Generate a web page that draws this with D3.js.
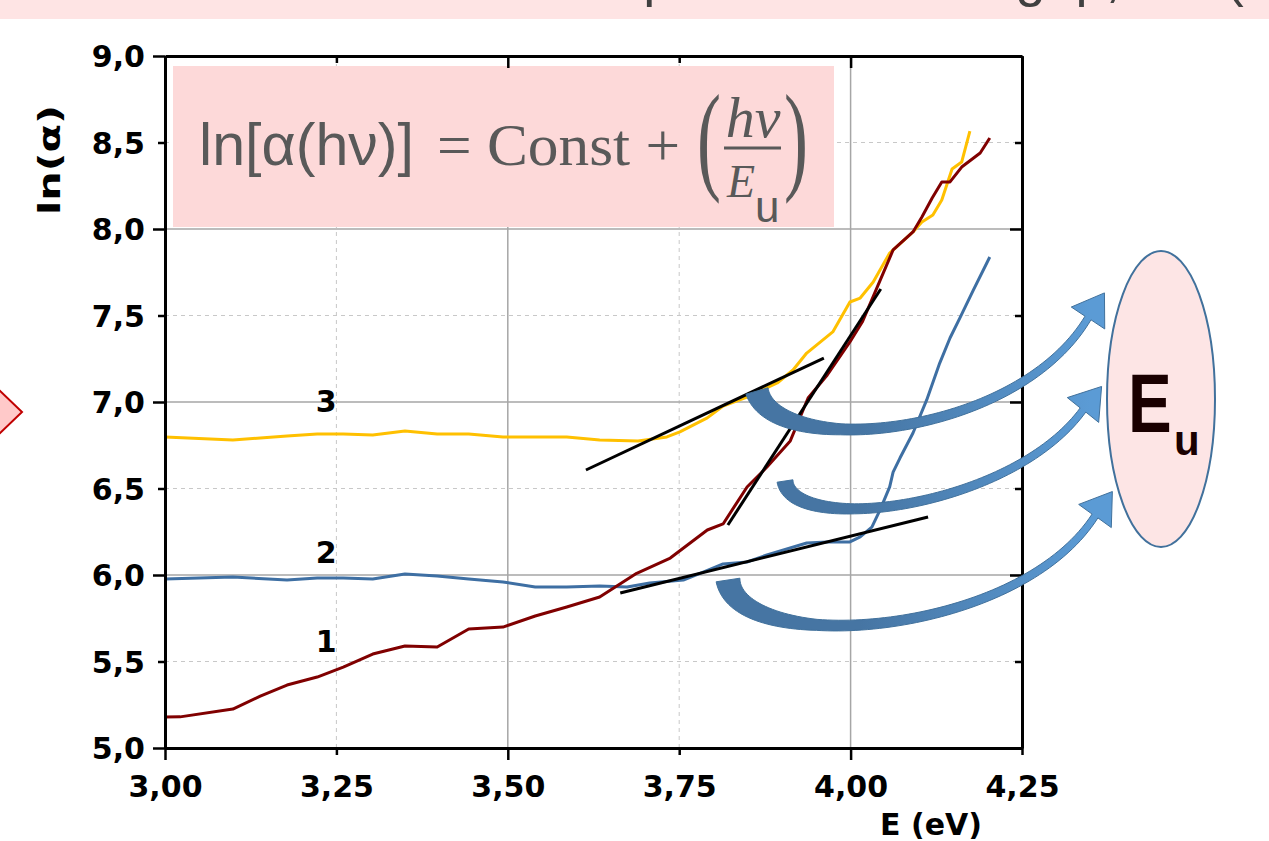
<!DOCTYPE html>
<html>
<head>
<meta charset="utf-8">
<script src="https://cdn.jsdelivr.net/npm/d3@7"></script>
<style>
  body { margin: 0; background: #fff; }
  svg text { font-family: "DejaVu Sans", sans-serif; }
</style>
</head>
<body>
<script>
// values
const xTicks = [3.00, 3.25, 3.50, 3.75, 4.00, 4.25]
const yTicks = [5.0, 5.5, 6.0, 6.5, 7.0, 7.5, 8.0, 8.5, 9.0]

// curve 1 (dark red)
const energy1 = [3.000, 3.022, 3.099, 3.139, 3.178, 3.222, 3.260, 3.303, 3.350, 3.397, 3.443, 3.493, 3.540, 3.586, 3.634, 3.688, 3.737, 3.791, 3.814, 3.849, 3.878, 3.912, 3.938, 3.966, 3.999, 4.017, 4.039, 4.062, 4.091, 4.104, 4.119, 4.133, 4.145, 4.162, 4.189, 4.203]
const lnAlpha1 = [5.179, 5.180, 5.225, 5.300, 5.364, 5.410, 5.468, 5.543, 5.590, 5.584, 5.688, 5.699, 5.763, 5.815, 5.873, 6.010, 6.098, 6.260, 6.295, 6.509, 6.624, 6.775, 7.023, 7.156, 7.347, 7.462, 7.665, 7.879, 7.983, 8.069, 8.179, 8.272, 8.272, 8.358, 8.439, 8.526]

// curve 2 (blue)
const energy2 = [3.000, 3.099, 3.178, 3.222, 3.260, 3.303, 3.350, 3.397, 3.443, 3.493, 3.540, 3.586, 3.634, 3.674, 3.707, 3.756, 3.785, 3.814, 3.849, 3.878, 3.936, 3.966, 3.999, 4.014, 4.031, 4.043, 4.057, 4.062, 4.072, 4.091, 4.111, 4.130, 4.145, 4.160, 4.179, 4.203]
const lnAlpha2 = [5.977, 5.988, 5.971, 5.983, 5.983, 5.977, 6.006, 5.994, 5.977, 5.960, 5.931, 5.931, 5.936, 5.931, 5.954, 5.971, 6.017, 6.064, 6.075, 6.116, 6.185, 6.191, 6.191, 6.220, 6.277, 6.376, 6.509, 6.595, 6.676, 6.821, 7.012, 7.225, 7.370, 7.491, 7.647, 7.838]

// curve 3 (orange)
const energy3 = [3.000, 3.099, 3.139, 3.178, 3.222, 3.260, 3.303, 3.350, 3.397, 3.443, 3.493, 3.540, 3.586, 3.634, 3.690, 3.732, 3.751, 3.791, 3.814, 3.849, 3.893, 3.916, 3.936, 3.974, 3.999, 4.014, 4.033, 4.057, 4.091, 4.104, 4.120, 4.133, 4.148, 4.162, 4.174]
const lnAlpha3 = [6.798, 6.780, 6.792, 6.803, 6.815, 6.815, 6.809, 6.832, 6.815, 6.815, 6.798, 6.798, 6.798, 6.780, 6.775, 6.798, 6.827, 6.908, 6.977, 7.029, 7.110, 7.185, 7.283, 7.405, 7.578, 7.601, 7.694, 7.861, 7.983, 8.040, 8.081, 8.168, 8.347, 8.387, 8.566]

// straight fits (black)
const fitEnergy = [[3.614, 3.961], [3.821, 4.044], [3.664, 4.113]]
const fitLnAlpha = [[6.607, 7.254], [6.289, 7.653], [5.896, 6.335]]

const curveNames = ['1', '2', '3']
const curveNameE = [3.235, 3.235, 3.235]
const curveNameLn = [5.555, 6.070, 6.940]

const width = 1269
const height = 841

const svg = d3.select("body")
  .append("svg")
    .attr("width", width)
    .attr("height", height)

const x = d3.scaleLinear().domain([3, 4.25]).range([165, 1022])
const y = d3.scaleLinear().domain([5, 9]).range([748, 56])

const isMajorX = (d) => Math.abs(d * 2 - Math.round(d * 2)) < 1e-6
const isMajorY = (d) => Math.abs(d - Math.round(d)) < 1e-6

// pink title band at the very top (its text is cut by the page edge, as on the slide)
svg.append("rect")
  .attr("x", 0).attr("y", 0)
  .attr("width", width).attr("height", 19)
  .attr("fill", "#fee4e4")
svg.append("clipPath").attr("id", "bandClip")
  .append("rect").attr("x", 0).attr("y", 0).attr("width", width).attr("height", 19)
svg.append("text")
  .attr("clip-path", "url(#bandClip)")
  .attr("x", 112).attr("y", -4)
  .attr("fill", "#404040")
  .style("font-family", "'Liberation Sans', sans-serif")
  .style("font-size", "54px")
  .text("Urbach tail from absorption and band gap, EU\u00a0(Eg)")

// pink arrow tip at left edge
svg.append("path")
  .attr("d", d3.line()([[-2, 389], [22, 412], [-2, 435]]))
  .attr("fill", "#ffc9c9")
  .attr("stroke", "#c00000")
  .attr("stroke-width", 2)

// grid
const grid = svg.append("g")
grid.selectAll("line.gx")
  .data(xTicks.filter((d) => d > 3 && d < 4.25))
  .enter()
    .append("line")
    .attr("x1", (d) => x(d)).attr("x2", (d) => x(d))
    .attr("y1", y(9)).attr("y2", y(5))
    .attr("stroke", (d) => isMajorX(d) ? "#a6a6a6" : "#c8c8c8")
    .attr("stroke-width", (d) => isMajorX(d) ? 1.5 : 1)
    .attr("stroke-dasharray", (d) => isMajorX(d) ? null : "4,4")
grid.selectAll("line.gy")
  .data(yTicks.filter((d) => d > 5 && d < 9))
  .enter()
    .append("line")
    .attr("x1", x(3)).attr("x2", x(4.25))
    .attr("y1", (d) => y(d)).attr("y2", (d) => y(d))
    .attr("stroke", (d) => isMajorY(d) ? "#a6a6a6" : "#c8c8c8")
    .attr("stroke-width", (d) => isMajorY(d) ? 1.5 : 1)
    .attr("stroke-dasharray", (d) => isMajorY(d) ? null : "4,4")

// formula box
svg.append("rect")
  .attr("x", 173).attr("y", 66)
  .attr("width", 661).attr("height", 161)
  .attr("fill", "#fdd9d9")

const formula = svg.append("g").attr("fill", "#595959")
formula.append("text")
  .attr("x", 199).attr("y", 165)
  .attr("textLength", 215).attr("lengthAdjust", "spacingAndGlyphs")
  .style("font-family", "'Liberation Sans', sans-serif")
  .style("font-size", "60px")
  .text("ln[α(hν)]")
formula.append("text")
  .attr("x", 437).attr("y", 165)
  .attr("textLength", 243).attr("lengthAdjust", "spacingAndGlyphs")
  .style("font-family", "'Liberation Serif', serif")
  .style("font-size", "60px")
  .text("= Const +")
formula.append("text")
  .attr("transform", "translate(709,178) scale(0.6,1)")
  .attr("text-anchor", "middle")
  .style("font-family", "'Liberation Serif', serif")
  .style("font-size", "120px")
  .text("(")
formula.append("text")
  .attr("transform", "translate(796,178) scale(0.6,1)")
  .attr("text-anchor", "middle")
  .style("font-family", "'Liberation Serif', serif")
  .style("font-size", "120px")
  .text(")")
formula.append("text")
  .attr("x", 753).attr("y", 137)
  .attr("text-anchor", "middle")
  .style("font-family", "'Liberation Serif', serif")
  .style("font-style", "italic")
  .style("font-size", "58px")
  .text("hν")
formula.append("line")
  .attr("x1", 724).attr("x2", 781)
  .attr("y1", 148).attr("y2", 148)
  .attr("stroke", "#595959").attr("stroke-width", 3)
formula.append("text")
  .attr("x", 727).attr("y", 197)
  .style("font-family", "'Liberation Serif', serif")
  .style("font-style", "italic")
  .style("font-size", "46px")
  .text("E")
formula.append("text")
  .attr("x", 755).attr("y", 222)
  .style("font-family", "'Liberation Sans', sans-serif")
  .style("font-size", "44px")
  .text("u")

// curves
const plot = svg.append("g")
const line = d3.line().x((d) => x(d[0])).y((d) => y(d[1]))
const series = [
  { e: energy3, v: lnAlpha3, color: "#ffc000" },
  { e: energy2, v: lnAlpha2, color: "#3e6fa3" },
  { e: energy1, v: lnAlpha1, color: "#800000" }
]
plot.selectAll("path.curve")
  .data(series)
  .enter()
    .append("path")
    .attr("class", "curve")
    .attr("d", (d) => line(d3.zip(d.e, d.v)))
    .attr("fill", "none")
    .attr("stroke", (d) => d.color)
    .attr("stroke-width", 3)
    .attr("stroke-linejoin", "round")

plot.selectAll("line.fit")
  .data(d3.range(fitEnergy.length))
  .enter()
    .append("line")
    .attr("x1", (i) => x(fitEnergy[i][0])).attr("y1", (i) => y(fitLnAlpha[i][0]))
    .attr("x2", (i) => x(fitEnergy[i][1])).attr("y2", (i) => y(fitLnAlpha[i][1]))
    .attr("stroke", "#000")
    .attr("stroke-width", 3)

plot.selectAll("text.name")
  .data(curveNames)
  .enter()
    .append("text")
    .attr("x", (d, i) => x(curveNameE[i]))
    .attr("y", (d, i) => y(curveNameLn[i]))
    .attr("text-anchor", "middle")
    .style("font-size", "30px")
    .style("font-weight", "bold")
    .text((d) => d)

// axes
const fmtX = (d) => d.toFixed(2).replace(".", ",")
const fmtY = (d) => d.toFixed(1).replace(".", ",")

const gLeft = svg.append("g")
  .attr("transform", `translate(${x(3)},0)`)
  .call(d3.axisLeft(y).tickValues(yTicks).tickFormat(fmtY).tickSize(12).tickSizeOuter(0))
gLeft.selectAll(".tick line").attr("x2", (d) => isMajorY(d) ? -12 : -7)
gLeft.selectAll(".tick text").attr("x", -20).attr("dy", "0.36em")

const gBottom = svg.append("g")
  .attr("transform", `translate(0,${y(5)})`)
  .call(d3.axisBottom(x).tickValues(xTicks).tickFormat(fmtX).tickSize(12).tickSizeOuter(0))
gBottom.selectAll(".tick line").attr("y2", (d) => isMajorX(d) ? 12 : 7)
gBottom.selectAll(".tick text").attr("y", 49).attr("dy", 0)

const gTop = svg.append("g")
  .attr("transform", `translate(0,${y(9)})`)
  .call(d3.axisBottom(x).tickValues(xTicks).tickFormat("").tickSize(12).tickSizeOuter(0))
gTop.selectAll(".tick line").attr("y2", (d) => isMajorX(d) ? 12 : 7)

const gRight = svg.append("g")
  .attr("transform", `translate(${x(4.25)},0)`)
  .call(d3.axisLeft(y).tickValues(yTicks).tickFormat("").tickSize(12).tickSizeOuter(0))
gRight.selectAll(".tick line").attr("x2", (d) => isMajorY(d) ? -12 : -7)

svg.selectAll(".domain").attr("stroke", "#000").attr("stroke-width", 3)
svg.selectAll(".tick line").attr("stroke", "#000").attr("stroke-width", 2.5)
svg.selectAll(".tick text")
  .attr("fill", "#000")
  .style("font-family", "'DejaVu Sans', sans-serif")
  .style("font-size", "30px")
  .style("font-weight", "bold")

svg.append("text")
  .attr("transform", "translate(60,160) rotate(-90)")
  .attr("text-anchor", "middle")
  .attr("textLength", 110).attr("lengthAdjust", "spacingAndGlyphs")
  .style("font-size", "30px")
  .style("font-weight", "bold")
  .text("ln(α)")

svg.append("text")
  .attr("x", 931).attr("y", 835)
  .attr("text-anchor", "middle")
  .style("font-size", "30px")
  .style("font-weight", "bold")
  .text("E (eV)")

// Eu ellipse
svg.append("ellipse")
  .attr("cx", 1161).attr("cy", 399)
  .attr("rx", 54).attr("ry", 148)
  .attr("fill", "#fde5e5")
  .attr("stroke", "#41719c")
  .attr("stroke-width", 2)
svg.append("text")
  .attr("transform", "translate(1128,432) scale(0.78,1)")
  .attr("fill", "#1a0000")
  .style("font-family", "'Liberation Sans', sans-serif")
  .style("font-size", "84px")
  .style("font-weight", "bold")
  .text("E")
svg.append("text")
  .attr("x", 1174).attr("y", 455)
  .attr("fill", "#1a0000")
  .style("font-family", "'Liberation Sans', sans-serif")
  .style("font-size", "42px")
  .style("font-weight", "bold")
  .text("u")

// curved arrows pointing to Eu
const defs = svg.append("defs")
const grad = defs.append("linearGradient")
  .attr("id", "arrowGrad")
  .attr("gradientUnits", "userSpaceOnUse")
  .attr("x1", 860).attr("x2", 1090).attr("y1", 0).attr("y2", 0)
grad.append("stop").attr("offset", 0).attr("stop-color", "#4675a3")
grad.append("stop").attr("offset", 1).attr("stop-color", "#5b9bd5")

function bez(p, t) {
  const u = 1 - t
  return [0, 1].map((k) => u * u * u * p[0][k] + 3 * u * u * t * p[1][k] + 3 * u * t * t * p[2][k] + t * t * t * p[3][k])
}

function curvedArrow(p, wTail, wMid, wEnd) {
  const n = 80, left = [], right = []
  for (let i = 0; i <= n; i++) {
    const t = i / n
    const a = bez(p, t)
    const b = bez(p, Math.min(1, t + 0.005))
    const c = bez(p, Math.max(0, t - 0.005))
    let dx = b[0] - c[0], dy = b[1] - c[1]
    const len = Math.hypot(dx, dy)
    dx /= len; dy /= len
    const w = t < 0.35 ? wTail + (wMid - wTail) * t / 0.35 : wMid + (wEnd - wMid) * (t - 0.35) / 0.65
    left.push([a[0] + dy * w / 2, a[1] - dx * w / 2])
    right.push([a[0] - dy * w / 2, a[1] + dx * w / 2])
  }
  const end = p[3], pre = bez(p, 0.97)
  let dx = end[0] - pre[0], dy = end[1] - pre[1]
  const len = Math.hypot(dx, dy)
  dx /= len; dy /= len
  const apex = [end[0] + dx * 30, end[1] + dy * 30]
  const w1 = [end[0] + dy * 20, end[1] - dx * 20]
  const w2 = [end[0] - dy * 20, end[1] + dx * 20]
  const pts = left.concat([w1, apex, w2], right.reverse())
  return d3.line()(pts) + "Z"
}

const arrows = [
  { p: [[757, 391], [775, 458], [1015, 440], [1088, 318]], w: [23, 11, 7] },
  { p: [[785, 481], [792, 535], [1010, 510], [1083, 410]], w: [16, 10, 7] },
  { p: [[728, 580], [738, 655], [1015, 640], [1095, 516]], w: [24, 11, 7] }
]
svg.selectAll("path.arrow")
  .data(arrows)
  .enter()
    .append("path")
    .attr("class", "arrow")
    .attr("d", (d) => curvedArrow(d.p, d.w[0], d.w[1], d.w[2]))
    .attr("fill", "url(#arrowGrad)")
    .attr("stroke", "#41719c")
    .attr("stroke-width", 1)
</script>
</body>
</html>
